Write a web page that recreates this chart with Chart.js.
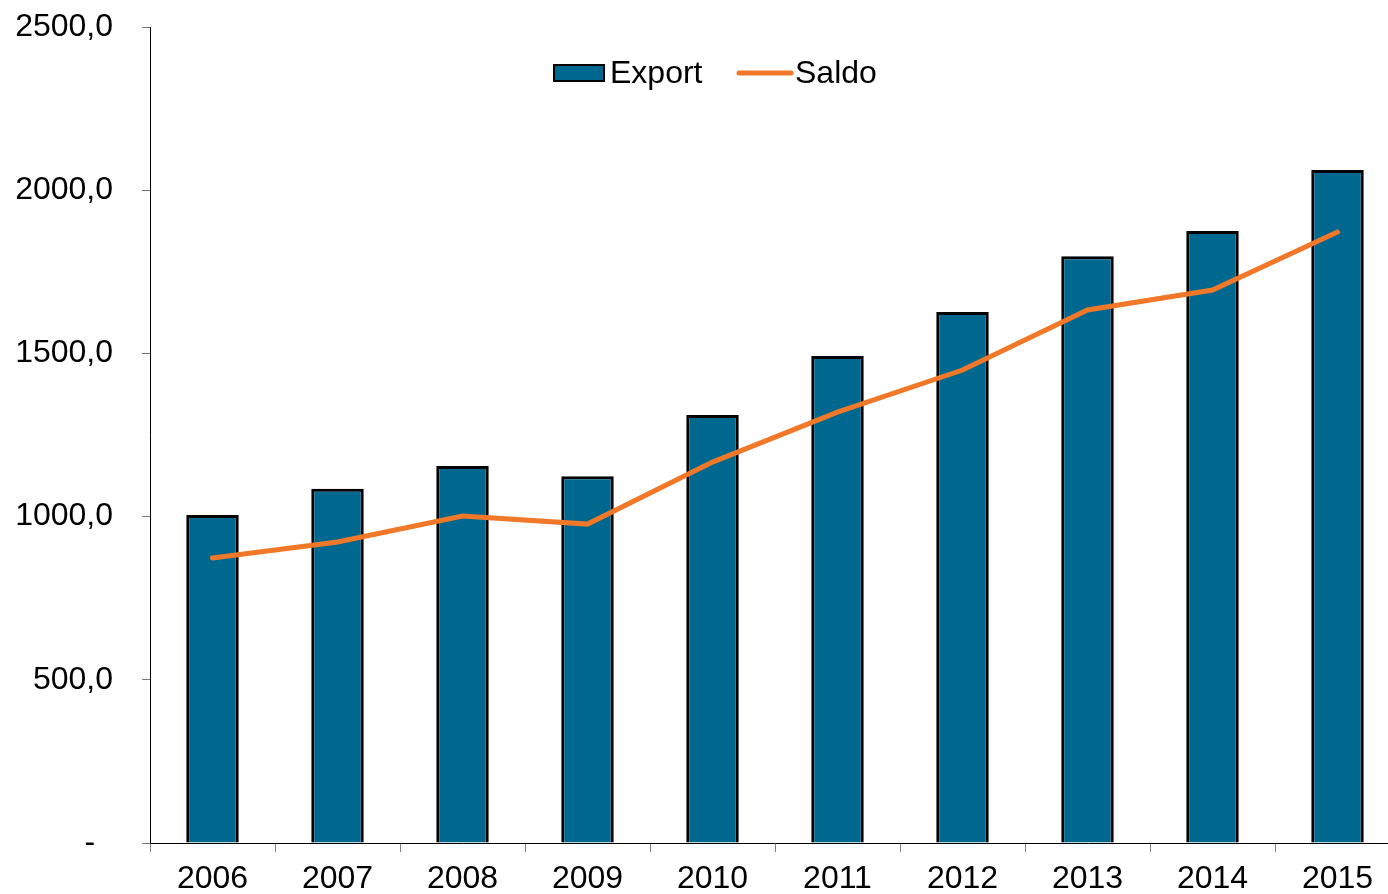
<!DOCTYPE html>
<html>
<head>
<meta charset="utf-8">
<script src="https://cdn.jsdelivr.net/npm/chart.js@4/dist/chart.umd.min.js"></script>
<style>
  html, body { margin: 0; padding: 0; background: #fff; overflow: hidden; }
  #wrap { width: 1400px; height: 894px; position: relative; }
</style>
</head>
<body>
<div id="wrap"><canvas id="c"></canvas></div>
<script>
const categories = ['2006','2007','2008','2009','2010','2011','2012','2013','2014','2015'];
const exportValues = [1005, 1085, 1155, 1124, 1311, 1492, 1627, 1798, 1875, 2062];
const saldoValues = [873, 922, 1002, 977, 1167, 1320, 1449, 1633, 1694, 1872];
const yTickValues = [0, 500, 1000, 1500, 2000, 2500];
const yTickLabels = ['-  ', '500,0', '1000,0', '1500,0', '2000,0', '2500,0'];
const seriesNames = ['Export', 'Saldo'];

const BAR_COLOR = '#00688f';
const LINE_COLOR = '#f07828';
const FONT = '"Liberation Sans", Arial, sans-serif';

const legendPlugin = {
  id: 'customLegend',
  afterDraw(chart) {
    const ctx = chart.ctx;
    ctx.save();
    ctx.font = '32px ' + FONT;
    ctx.textBaseline = 'middle';
    ctx.textAlign = 'left';
    // Export box
    ctx.fillStyle = BAR_COLOR;
    ctx.fillRect(554, 65, 50, 16);
    ctx.lineWidth = 2;
    ctx.strokeStyle = '#000';
    ctx.strokeRect(554, 65, 50, 16);
    ctx.fillStyle = '#000';
    ctx.fillText(seriesNames[0], 610, 74);
    // Saldo line
    ctx.strokeStyle = LINE_COLOR;
    ctx.lineWidth = 5;
    ctx.lineCap = 'round';
    ctx.beginPath();
    ctx.moveTo(739, 73);
    ctx.lineTo(791, 73);
    ctx.stroke();
    ctx.fillStyle = '#000';
    ctx.fillText(seriesNames[1], 795, 74);
    ctx.restore();
  }
};

new Chart(document.getElementById('c'), {
  data: {
    labels: categories,
    datasets: [
      {
        type: 'line',
        label: seriesNames[1],
        data: saldoValues,
        borderColor: LINE_COLOR,
        borderWidth: 5,
        pointRadius: 0,
        tension: 0,
        fill: false,
        order: 0,
        borderCapStyle: 'round'
      },
      {
        type: 'bar',
        label: seriesNames[0],
        data: exportValues,
        backgroundColor: BAR_COLOR,
        borderColor: '#000',
        borderWidth: 3,
        barPercentage: 0.42,
        categoryPercentage: 1.0,
        order: 1
      }
    ]
  },
  options: {
    responsive: true,
    maintainAspectRatio: false,
    animation: false,
    layout: { padding: { top: 27, left: 0, right: 0, bottom: 0 } },
    plugins: { legend: { display: false }, tooltip: { enabled: false } },
    scales: {
      x: {
        offset: true,
        grid: {
          offset: true,
          drawOnChartArea: false,
          drawTicks: true,
          tickLength: 9,
          tickColor: '#808080'
        },
        border: { display: true, color: '#000', width: 1 },
        ticks: {
          color: '#000',
          font: { family: FONT, size: 32 },
          padding: 8,
          maxRotation: 0,
          autoSkip: false
        },
        afterFit(scale) { scale.height = 51; scale.paddingLeft = 0; scale.paddingRight = 0; }
      },
      y: {
        min: 0,
        max: 2500,
        afterBuildTicks(scale) {
          scale.ticks = yTickValues.map(v => ({ value: v }));
        },
        grid: {
          drawOnChartArea: false,
          drawTicks: true,
          tickLength: 8,
          tickColor: '#777',
          lineWidth: 1
        },
        border: { display: true, color: '#000', width: 1 },
        ticks: {
          color: '#000',
          font: { family: FONT, size: 32 },
          padding: 29,
          callback(value) {
            const i = yTickValues.indexOf(value);
            return i >= 0 ? yTickLabels[i] : '';
          }
        },
        afterFit(scale) { scale.width = 150; scale.paddingTop = 0; scale.paddingBottom = 0; }
      }
    }
  },
  plugins: [legendPlugin]
});
</script>
</body>
</html>
